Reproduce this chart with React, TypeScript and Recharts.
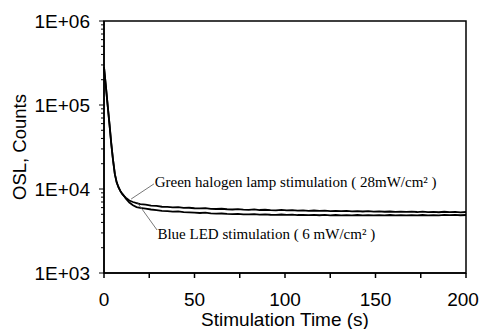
import React from 'react';
import { LineChart, Line, XAxis, YAxis, ReferenceArea, ReferenceLine, ReferenceDot } from 'recharts';

const times = [0, 1, 2, 3, 4, 5, 6, 7, 8, 9, 10, 11, 12, 14, 16, 18, 20,
  23, 26, 29, 32, 35, 38, 41, 44, 47, 50, 53, 56, 59, 62, 65, 68, 71, 74, 77, 80,
  83, 86, 89, 92, 95, 98, 101, 104, 107, 110, 113, 116, 119, 122, 125, 128, 131, 134, 137, 140,
  143, 146, 149, 152, 155, 158, 161, 164, 167, 170, 173, 176, 179, 182, 185, 188, 191, 194, 197, 200];

const greenHalogen = [283000, 170000, 100000, 60000, 35000, 22000, 15000, 12000, 10500, 9500, 8800, 8300, 7900, 7300, 7000, 6800, 6600,
  6500, 6350, 6280, 6150, 6120, 6050, 6080, 5950, 5980, 5900, 5870, 5920, 5800, 5780, 5820, 5740, 5700, 5760, 5680, 5650,
  5710, 5620, 5660, 5600, 5580, 5640, 5570, 5600, 5530, 5560, 5500, 5550, 5480, 5520, 5460, 5500, 5440, 5490, 5420, 5460,
  5400, 5450, 5380, 5420, 5360, 5400, 5350, 5390, 5330, 5370, 5320, 5380, 5300, 5350, 5290, 5360, 5300, 5330, 5280, 5320];

const blueLED = [283000, 170000, 100000, 60000, 35000, 22000, 15000, 12000, 10500, 9500, 8800, 8300, 7700, 6900, 6400, 6100, 5950,
  5850, 5700, 5620, 5500, 5460, 5380, 5400, 5300, 5260, 5220, 5180, 5230, 5120, 5080, 5110, 5050, 5020, 5070, 5000, 4980,
  5030, 4960, 5000, 4940, 4920, 4970, 4910, 4950, 4900, 4930, 4880, 4920, 4870, 4910, 4860, 4900, 4850, 4890, 4860, 4900,
  4850, 4880, 4840, 4890, 4850, 4900, 4860, 4880, 4840, 4890, 4860, 4900, 4850, 4880, 4860, 4920, 4880, 4910, 4870, 4900];

const xTicks = [0, 25, 50, 75, 100, 125, 150, 175, 200];
const yMajorTicks = [1000, 10000, 100000, 1000000];
const yMinorTicks = [2000, 3000, 4000, 5000, 6000, 7000, 8000, 9000,
  20000, 30000, 40000, 50000, 60000, 70000, 80000, 90000,
  200000, 300000, 400000, 500000, 600000, 700000, 800000, 900000];
const yAllTicks = [...yMajorTicks, ...yMinorTicks].sort((a, b) => a - b);

const greenLabel = 'Green halogen lamp stimulation ( 28mW/cm\u00B2 )';
const blueLabel = 'Blue LED stimulation ( 6 mW/cm\u00B2 )';

const data = times.map((t, i) => ({ t, green: greenHalogen[i], blue: blueLED[i] }));

const sans = 'Liberation Sans, Arial, sans-serif';
const serif = 'Liberation Serif, Times New Roman, serif';

const Y_TICK_SIZE = 5;
const Y_TICK_MARGIN = 9;

function YTick(props: any) {
  const { x, y, payload } = props;
  const v = payload.value as number;
  const isMajor = yMajorTicks.includes(v);
  const axisX = x + Y_TICK_SIZE + Y_TICK_MARGIN;
  const len = isMajor ? 5 : 3;
  return (
    <g>
      <line x1={axisX} x2={axisX - len} y1={y} y2={y} stroke="#000" strokeWidth={1} />
      {isMajor && (
        <text x={x} y={y} dy="0.355em" textAnchor="end" fill="#000" fontSize={19} fontFamily={sans}>
          {'1E+0' + Math.round(Math.log10(v))}
        </text>
      )}
    </g>
  );
}

function XTick(props: any) {
  const { x, y, payload } = props;
  const v = payload.value as number;
  if (v % 50 !== 0) return <g />;
  const shift = v === 200 ? -3 : 0;
  return (
    <text x={x + shift} y={y} dy="0.71em" textAnchor="middle" fill="#000" fontSize={19} fontFamily={sans}>
      {String(v)}
    </text>
  );
}

export default function App() {
  return (
    <div style={{ position: 'absolute', left: 0, top: 0, background: '#fff' }}>
      <LineChart width={480} height={329} data={data} margin={{ top: 21, right: 14, bottom: 0, left: 0 }}>
        <XAxis
          dataKey="t"
          type="number"
          domain={[0, 200]}
          ticks={xTicks}
          interval={0}
          tickSize={5}
          tickMargin={15}
          height={56}
          stroke="#000"
          strokeWidth={1.5}
          tick={<XTick />}
          label={{ value: 'Stimulation Time (s)', position: 'insideBottom', offset: 3, fill: '#000', fontSize: 19, fontFamily: sans }}
        />
        <YAxis
          yAxisId="main"
          scale="log"
          domain={[1000, 1000000]}
          type="number"
          ticks={yAllTicks}
          interval={0}
          tickLine={false}
          tickSize={Y_TICK_SIZE}
          tickMargin={Y_TICK_MARGIN}
          width={104}
          stroke="#000"
          strokeWidth={1.5}
          allowDataOverflow
          tick={<YTick />}
          label={{ value: 'OSL, Counts', angle: -90, position: 'insideLeft', offset: 19, fill: '#000', fontSize: 18.5, fontFamily: sans, style: { textAnchor: 'middle' } }}
        />
        <ReferenceArea yAxisId="main" x1={0} x2={200} y1={1000} y2={1000000} fill="none" stroke="#000" strokeWidth={1.5} ifOverflow="visible" />
        <Line yAxisId="main" dataKey="green" stroke="#000" strokeWidth={1.8} dot={false} isAnimationActive={false} type="linear" />
        <Line yAxisId="main" dataKey="blue" stroke="#000" strokeWidth={1.8} dot={false} isAnimationActive={false} type="linear" />
        <ReferenceLine yAxisId="main" segment={[{ x: 15, y: 7600 }, { x: 27.6, y: 11500 }]} stroke="#555" strokeWidth={0.8} ifOverflow="visible" />
        <ReferenceLine yAxisId="main" segment={[{ x: 18.2, y: 7000 }, { x: 29.3, y: 3250 }]} stroke="#555" strokeWidth={0.8} ifOverflow="visible" />
        <ReferenceDot yAxisId="main" x={28} y={12200} r={0} ifOverflow="visible"
          label={{ value: greenLabel, position: 'right', offset: 0, fill: '#000', fontSize: 15, fontFamily: serif }} />
        <ReferenceDot yAxisId="main" x={29.5} y={2900} r={0} ifOverflow="visible"
          label={{ value: blueLabel, position: 'right', offset: 0, fill: '#000', fontSize: 15, fontFamily: serif }} />
      </LineChart>
    </div>
  );
}
